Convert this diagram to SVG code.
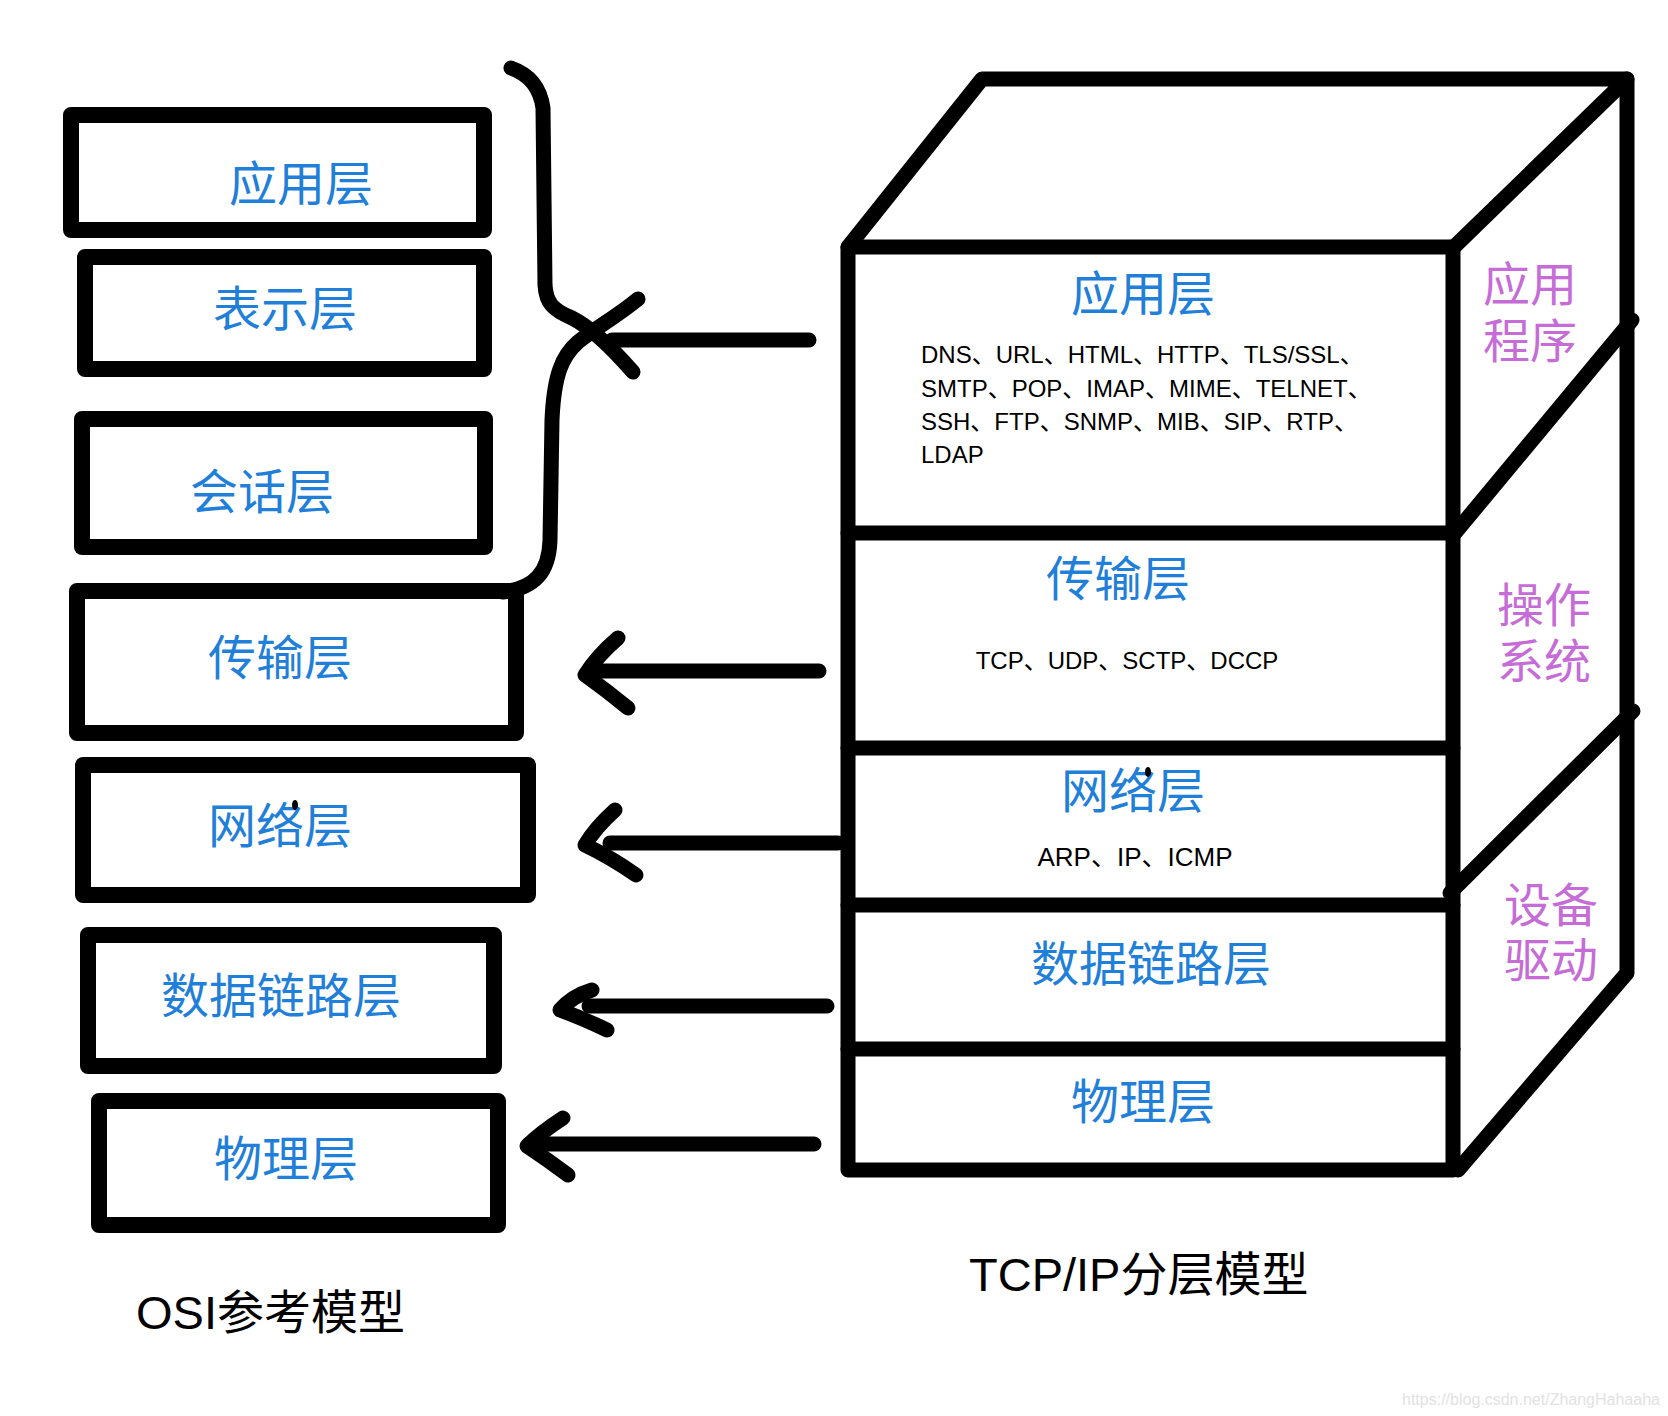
<svg xmlns="http://www.w3.org/2000/svg" width="1668" height="1416" viewBox="0 0 1668 1416">
<style>
.box{fill:none;stroke:#000;stroke-width:16;stroke-linejoin:round;stroke-linecap:round}
.cube{fill:none;stroke:#000;stroke-width:15;stroke-linejoin:round;stroke-linecap:round}
.conn{fill:none;stroke:#000;stroke-width:15;stroke-linejoin:round;stroke-linecap:round}
.lbl{font-family:"Noto Sans CJK SC","Liberation Sans",sans-serif;font-size:48px;fill:#1f7fd9;text-anchor:middle;dominant-baseline:central}
.side{font-family:"Noto Sans CJK SC","Liberation Sans",sans-serif;font-size:47px;fill:#c56cd6;text-anchor:middle;dominant-baseline:central}
.proto{font-family:"Liberation Sans","Noto Sans CJK SC",sans-serif;font-size:24px;fill:#000}
.cap{font-family:"Liberation Sans","Noto Sans CJK SC",sans-serif;font-size:47px;fill:#000}
.wm{font-family:"Liberation Sans",sans-serif;font-size:16px;fill:#e2e2e2}
</style>
<rect width="1668" height="1416" fill="#fff"/>

<g id="osi">
<g id="osi-app"><rect class="box" x="71" y="115" width="413" height="115"/><text class="lbl" x="301" y="180">应用层</text></g>
<g id="osi-pres"><rect class="box" x="85" y="257" width="399" height="112"/><text class="lbl" x="285" y="305">表示层</text></g>
<g id="osi-sess"><rect class="box" x="82" y="419" width="403" height="128"/><text class="lbl" x="262" y="488">会话层</text></g>
<g id="osi-trans"><rect class="box" x="77" y="591" width="439" height="142"/><text class="lbl" x="280" y="654">传输层</text></g>
<g id="osi-net"><rect class="box" x="83" y="765" width="445" height="130"/><text class="lbl" x="280" y="822">网络层</text><ellipse cx="295" cy="805" rx="3" ry="5" fill="#000"/></g>
<g id="osi-link"><rect class="box" x="88" y="935" width="406" height="131"/><text class="lbl" x="281" y="992">数据链路层</text></g>
<g id="osi-phy"><rect class="box" x="99" y="1101" width="399" height="124"/><text class="lbl" x="286" y="1155">物理层</text></g>
<text id="osi-title" class="cap" x="136" y="1329">OSI参考模型</text>
</g>

<g id="tcpip">
<g id="cube-frame">
<path class="cube" d="M848,247 L982,79 L1627,79 L1454,247"/>
<path class="cube" d="M848,247 L1453,247 L1453,1170 L848,1170 Z"/>
<path class="cube" d="M1627,79 L1627,973 L1458,1170"/>
<path class="cube" d="M1455,533 L1632,320"/>
<path class="cube" d="M1450,893 L1633,711"/>
</g>
<g id="tcp-app">
<line class="cube" x1="848" y1="533" x2="1453" y2="533"/>
<text class="lbl" x="1143" y="290">应用层</text>
<text class="proto" x="921" y="363">DNS、URL、HTML、HTTP、TLS/SSL、</text>
<text class="proto" x="921" y="397">SMTP、POP、IMAP、MIME、TELNET、</text>
<text class="proto" x="921" y="430">SSH、FTP、SNMP、MIB、SIP、RTP、</text>
<text class="proto" x="921" y="463">LDAP</text>
</g>
<g id="tcp-trans">
<line class="cube" x1="848" y1="748" x2="1453" y2="748"/>
<text class="lbl" x="1118" y="575">传输层</text>
<text class="proto" x="1127" y="669" text-anchor="middle">TCP、UDP、SCTP、DCCP</text>
</g>
<g id="tcp-net">
<line class="cube" x1="848" y1="905" x2="1453" y2="905"/>
<text class="lbl" x="1133" y="787">网络层</text>
<ellipse cx="1148" cy="772" rx="3" ry="5" fill="#000"/>
<text class="proto" x="1135" y="866" text-anchor="middle" style="font-size:26px">ARP、IP、ICMP</text>
</g>
<g id="tcp-link">
<line class="cube" x1="848" y1="1049" x2="1453" y2="1049"/>
<text class="lbl" x="1151" y="960">数据链路层</text>
</g>
<g id="tcp-phy">
<text class="lbl" x="1143" y="1098">物理层</text>
</g>
<g id="side-app"><text class="side"><tspan x="1530" y="280">应用</tspan><tspan x="1530" y="337">程序</tspan></text></g>
<g id="side-os"><text class="side"><tspan x="1544" y="601">操作</tspan><tspan x="1544" y="657">系统</tspan></text></g>
<g id="side-drv"><text class="side"><tspan x="1551" y="901">设备</tspan><tspan x="1551" y="956">驱动</tspan></text></g>
<text id="tcp-title" class="cap" x="969" y="1291">TCP/IP分层模型</text>
</g>

<g id="connectors">
<path class="conn" d="M511,68 C528,74 540,86 543,108 L545,285 C546,303 553,310 572,318 C592,328 612,348 633,372"/>
<path class="conn" d="M638,299 C615,318 595,328 578,342 C562,356 554,375 552,420 L550,540 C549,572 535,588 503,592"/>
<path class="conn" d="M612,340 L809,340"/>
<path class="conn" d="M589,671 L819,671"/>
<path class="conn" d="M618,638 Q597,656 585,675 Q606,690 628,708"/>
<path class="conn" d="M610,843 L838,843"/>
<path class="conn" d="M615,810 Q595,828 585,845 Q612,858 636,875"/>
<path class="conn" d="M589,1006 L827,1006"/>
<path class="conn" d="M592,990 Q572,996 560,1010 Q582,1018 607,1030"/>
<path class="conn" d="M529,1144 L814,1144"/>
<path class="conn" d="M563,1118 Q540,1133 527,1146 Q548,1160 568,1175"/>
</g>

<text class="wm" x="1402" y="1405">https://blog.csdn.net/ZhangHahaaha</text>
</svg>
